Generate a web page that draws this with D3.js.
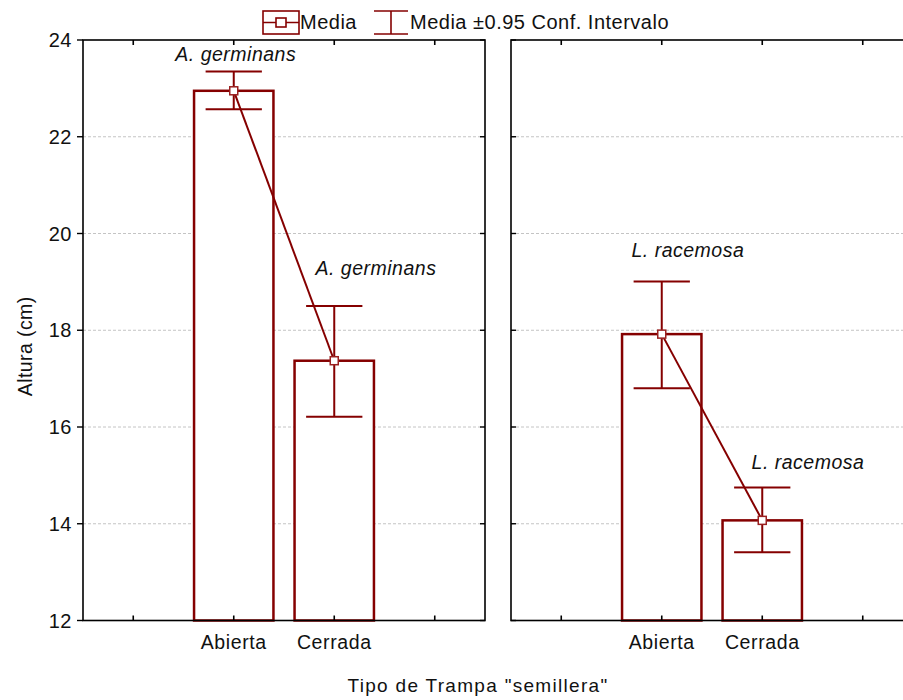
<!DOCTYPE html>
<html><head><meta charset="utf-8">
<script src="https://cdn.jsdelivr.net/npm/d3@7"></script>
<style>
html,body{margin:0;padding:0;background:#fff;}
svg text{font-family:"Liberation Sans",Arial,sans-serif;fill:#111;}
</style></head>
<body>
<svg id="c" width="903" height="700"></svg>
<script>
// ---- data ----
const categories = ["Abierta", "Cerrada"];
const panelSpecies = ["A. germinans", "L. racemosa"];
const meanAg = [22.95, 17.37];
const lowAg  = [22.57, 16.21];
const highAg = [23.35, 18.50];
const meanLr = [17.92, 14.07];
const lowLr  = [16.80, 13.41];
const highLr = [19.01, 14.75];
const yTicks = [12, 14, 16, 18, 20, 22, 24];
const xTickLabels = ["", "Abierta", "Cerrada", ""];
// annotation anchors in data units (category position, value)
const labelCat = [[1.02, 2.415], [1.26, 2.455]];
const labelVal = [[23.57, 19.14], [19.51, 15.13]];
const legendLabels = ["Media", "Media \u00B10.95 Conf. Intervalo"];
const yTitle = "Altura (cm)";
const xTitle = "Tipo de Trampa \"semillera\"";

const means = [meanAg, meanLr], lows = [lowAg, lowLr], highs = [highAg, highLr];

const RED = "#850000";
const svg = d3.select("#c");
const yTop = 40, yBot = 620.5, pw = 402;
const panelLeft = [83, 511];
const y = d3.scaleLinear().domain([12, 24]).range([yBot, yTop]);

panelLeft.forEach((pl, p) => {
  const x = d3.scaleLinear().domain([-0.5, 3.5]).range([pl, pl + pw]);
  const g = svg.append("g");
  // gridlines
  g.selectAll("line.grid").data(yTicks.slice(1, -1)).join("line")
    .attr("x1", pl).attr("x2", pl + pw).attr("y1", d => y(d)).attr("y2", d => y(d))
    .attr("stroke", "#c4c4c4").attr("stroke-width", 1).attr("stroke-dasharray", "3,2");
  // bars
  const bw = 0.79;
  g.selectAll("rect.bar").data(means[p]).join("rect")
    .attr("x", (d, i) => x(i + 1 - bw / 2)).attr("width", x(bw) - x(0))
    .attr("y", d => y(d)).attr("height", d => y(12) - y(d))
    .attr("fill", "#fff").attr("stroke", RED).attr("stroke-width", 2.5);
  // error bars
  const cw = 0.56;
  categories.forEach((c, i) => {
    const cx = x(i + 1);
    g.append("line").attr("x1", cx).attr("x2", cx).attr("y1", y(lows[p][i])).attr("y2", y(highs[p][i]))
      .attr("stroke", RED).attr("stroke-width", 2);
    [lows[p][i], highs[p][i]].forEach(v => {
      g.append("line").attr("x1", x(i + 1 - cw / 2)).attr("x2", x(i + 1 + cw / 2))
        .attr("y1", y(v)).attr("y2", y(v)).attr("stroke", RED).attr("stroke-width", 2);
    });
  });
  // mean line
  g.append("path").datum(means[p])
    .attr("d", d3.line().x((d, i) => x(i + 1)).y(d => y(d)))
    .attr("fill", "none").attr("stroke", RED).attr("stroke-width", 2);
  // markers
  g.selectAll("rect.mk").data(means[p]).join("rect")
    .attr("x", (d, i) => x(i + 1) - 4).attr("y", d => y(d) - 4)
    .attr("width", 8).attr("height", 8)
    .attr("fill", "#fff").attr("stroke", "#9a2020").attr("stroke-width", 1.5);
  // annotations
  categories.forEach((c, i) => {
    g.append("text").attr("x", x(labelCat[p][i])).attr("y", y(labelVal[p][i]))
      .attr("text-anchor", "middle").attr("font-style", "italic").attr("font-size", 19.5)
      .attr("letter-spacing", 0.5)
      .text(panelSpecies[p]);
  });
  // frame
  const ax = svg.append("g").attr("fill", "none").attr("stroke", "#000");
  ax.append("rect").attr("x", pl).attr("y", yTop).attr("width", pw).attr("height", yBot - yTop)
    .attr("stroke-width", 1.6).attr("fill", "none");
  // x ticks bottom + top (inward)
  const xt = [0, 1, 2, 3];
  ax.selectAll("line.xb").data(xt).join("line")
    .attr("x1", d => x(d)).attr("x2", d => x(d)).attr("y1", yBot).attr("y2", yBot - 5).attr("stroke-width", 1.6);
  ax.selectAll("line.xt").data(xt).join("line")
    .attr("x1", d => x(d)).attr("x2", d => x(d)).attr("y1", yTop).attr("y2", yTop + 5).attr("stroke-width", 1.6);
  // y ticks
  if (p === 0) {
    ax.selectAll("line.yl").data(yTicks).join("line")
      .attr("x1", pl - 6).attr("x2", pl).attr("y1", d => y(d)).attr("y2", d => y(d)).attr("stroke-width", 1.4);
    ax.selectAll("line.yr").data(yTicks).join("line")
      .attr("x1", pl + pw - 5).attr("x2", pl + pw).attr("y1", d => y(d)).attr("y2", d => y(d)).attr("stroke-width", 1.4);
    svg.append("g").selectAll("text").data(yTicks).join("text")
      .attr("x", 72).attr("y", d => y(d)).attr("dy", "0.36em").attr("text-anchor", "end")
      .attr("font-size", 20).attr("letter-spacing", 0.5).text(d => d);
  } else {
    ax.selectAll("line.yl").data(yTicks).join("line")
      .attr("x1", pl).attr("x2", pl + 5).attr("y1", d => y(d)).attr("y2", d => y(d)).attr("stroke-width", 1.4);
  }
  // x tick labels
  svg.append("g").selectAll("text").data(xTickLabels).join("text")
    .attr("x", (d, i) => x(i)).attr("y", 649).attr("text-anchor", "middle")
    .attr("font-size", 19.5).attr("letter-spacing", 0.6).text(d => d);
});

// axis titles
svg.append("text").attr("transform", `translate(32,${(yTop + yBot) / 2 + 16}) rotate(-90)`)
  .attr("text-anchor", "middle").attr("font-size", 19.5).attr("letter-spacing", 0.4).text(yTitle);
svg.append("text").attr("x", 478).attr("y", 692).attr("text-anchor", "middle")
  .attr("font-size", 19).attr("letter-spacing", 1.3).text(xTitle);

// legend
const lg = svg.append("g");
lg.append("rect").attr("x", 263).attr("y", 11).attr("width", 36).attr("height", 23)
  .attr("fill", "#fff").attr("stroke", RED).attr("stroke-width", 1.6);
lg.append("line").attr("x1", 263).attr("x2", 299).attr("y1", 22.5).attr("y2", 22.5)
  .attr("stroke", RED).attr("stroke-width", 1.6);
lg.append("rect").attr("x", 276).attr("y", 18).attr("width", 10).attr("height", 9)
  .attr("fill", "#fff").attr("stroke", RED).attr("stroke-width", 1.6);
lg.append("text").attr("x", 300).attr("y", 29).attr("font-size", 20).attr("letter-spacing", 0.5).text(legendLabels[0]);
lg.append("line").attr("x1", 374).attr("x2", 408).attr("y1", 11).attr("y2", 11).attr("stroke", RED).attr("stroke-width", 1.6);
lg.append("line").attr("x1", 374).attr("x2", 408).attr("y1", 34).attr("y2", 34).attr("stroke", RED).attr("stroke-width", 1.6);
lg.append("line").attr("x1", 391).attr("x2", 391).attr("y1", 11).attr("y2", 34).attr("stroke", RED).attr("stroke-width", 1.6);
lg.append("text").attr("x", 410).attr("y", 29).attr("font-size", 20).attr("letter-spacing", 0.5).text(legendLabels[1]);
</script>
</body></html>
